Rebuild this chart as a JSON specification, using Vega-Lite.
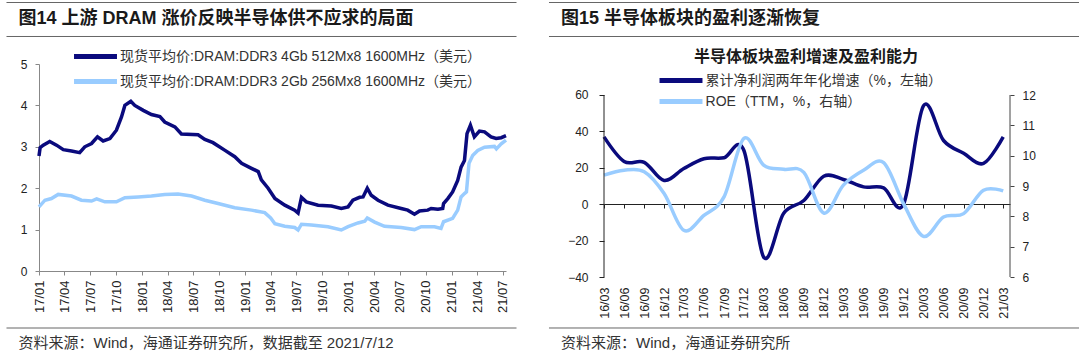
{
  "$schema": "https://vega.github.io/schema/vega-lite/v6.json",
  "background": "white",
  "padding": {"left": 5, "top": 2, "right": 2, "bottom": 2},
  "spacing": 30,
  "resolve": {"scale": {"color": "independent"}, "legend": {"color": "independent"}},
  "config": {
    "view": {"stroke": null},
    "font": "Liberation Sans, Noto Sans CJK SC",
    "axis": {"grid": false, "labelFont": "Liberation Sans", "labelFontSize": 12, "labelColor": "#222222", "labelOverlap": false},
    "axisX": {"labelOverlap": false}
  },
  "datasets": {
    "d4": [{"date":"2017-01-01","v":2.78},{"date":"2017-01-05","v":2.98},{"date":"2017-01-16","v":3.04},{"date":"2017-02-08","v":3.13},{"date":"2017-03-04","v":3.04},{"date":"2017-03-28","v":2.93},{"date":"2017-04-26","v":2.9},{"date":"2017-05-25","v":2.86},{"date":"2017-06-12","v":3.0},{"date":"2017-07-06","v":3.08},{"date":"2017-07-27","v":3.24},{"date":"2017-08-16","v":3.14},{"date":"2017-09-09","v":3.2},{"date":"2017-10-02","v":3.4},{"date":"2017-10-20","v":3.72},{"date":"2017-11-01","v":4.0},{"date":"2017-11-22","v":4.1},{"date":"2017-12-06","v":4.0},{"date":"2018-01-05","v":3.88},{"date":"2018-02-03","v":3.78},{"date":"2018-03-05","v":3.73},{"date":"2018-03-22","v":3.6},{"date":"2018-04-27","v":3.48},{"date":"2018-05-20","v":3.31},{"date":"2018-07-18","v":3.29},{"date":"2018-08-11","v":3.18},{"date":"2018-09-09","v":3.1},{"date":"2018-10-20","v":2.92},{"date":"2018-11-25","v":2.76},{"date":"2018-12-19","v":2.6},{"date":"2019-01-23","v":2.48},{"date":"2019-02-16","v":2.4},{"date":"2019-02-27","v":2.2},{"date":"2019-03-23","v":2.0},{"date":"2019-04-16","v":1.75},{"date":"2019-05-21","v":1.59},{"date":"2019-06-25","v":1.47},{"date":"2019-07-07","v":1.4},{"date":"2019-07-19","v":1.78},{"date":"2019-08-05","v":1.67},{"date":"2019-09-16","v":1.59},{"date":"2019-11-02","v":1.57},{"date":"2019-12-07","v":1.51},{"date":"2019-12-31","v":1.55},{"date":"2020-01-17","v":1.71},{"date":"2020-02-10","v":1.78},{"date":"2020-02-22","v":1.79},{"date":"2020-03-08","v":2.0},{"date":"2020-03-22","v":1.83},{"date":"2020-04-15","v":1.71},{"date":"2020-05-20","v":1.59},{"date":"2020-07-06","v":1.51},{"date":"2020-07-29","v":1.47},{"date":"2020-08-22","v":1.37},{"date":"2020-09-09","v":1.45},{"date":"2020-10-08","v":1.47},{"date":"2020-10-20","v":1.51},{"date":"2020-11-13","v":1.49},{"date":"2020-11-30","v":1.51},{"date":"2020-12-03","v":1.63},{"date":"2020-12-18","v":1.75},{"date":"2021-01-04","v":1.91},{"date":"2021-01-22","v":2.19},{"date":"2021-02-03","v":2.51},{"date":"2021-02-15","v":2.67},{"date":"2021-02-24","v":3.32},{"date":"2021-03-08","v":3.52},{"date":"2021-03-22","v":3.24},{"date":"2021-04-09","v":3.38},{"date":"2021-04-27","v":3.36},{"date":"2021-05-20","v":3.24},{"date":"2021-06-07","v":3.2},{"date":"2021-06-25","v":3.22},{"date":"2021-07-12","v":3.27}],
    "d2": [{"date":"2017-01-01","v":1.55},{"date":"2017-01-22","v":1.71},{"date":"2017-02-14","v":1.75},{"date":"2017-03-10","v":1.85},{"date":"2017-04-26","v":1.81},{"date":"2017-05-31","v":1.71},{"date":"2017-07-06","v":1.69},{"date":"2017-07-24","v":1.74},{"date":"2017-08-22","v":1.67},{"date":"2017-10-02","v":1.67},{"date":"2017-11-01","v":1.77},{"date":"2017-12-18","v":1.79},{"date":"2018-02-03","v":1.81},{"date":"2018-03-22","v":1.85},{"date":"2018-05-08","v":1.86},{"date":"2018-06-25","v":1.81},{"date":"2018-08-11","v":1.71},{"date":"2018-09-27","v":1.63},{"date":"2018-11-25","v":1.53},{"date":"2019-01-23","v":1.47},{"date":"2019-03-11","v":1.41},{"date":"2019-04-01","v":1.28},{"date":"2019-04-16","v":1.14},{"date":"2019-05-21","v":1.08},{"date":"2019-06-25","v":1.05},{"date":"2019-07-07","v":0.99},{"date":"2019-07-19","v":1.13},{"date":"2019-08-23","v":1.11},{"date":"2019-10-21","v":1.07},{"date":"2019-12-07","v":0.99},{"date":"2019-12-31","v":1.07},{"date":"2020-02-04","v":1.16},{"date":"2020-02-28","v":1.2},{"date":"2020-03-08","v":1.28},{"date":"2020-04-03","v":1.18},{"date":"2020-05-08","v":1.08},{"date":"2020-07-06","v":1.05},{"date":"2020-08-22","v":1.0},{"date":"2020-09-15","v":1.07},{"date":"2020-11-01","v":1.07},{"date":"2020-11-24","v":1.03},{"date":"2020-12-03","v":1.19},{"date":"2021-01-04","v":1.27},{"date":"2021-01-22","v":1.47},{"date":"2021-02-03","v":1.79},{"date":"2021-02-15","v":1.87},{"date":"2021-02-22","v":1.91},{"date":"2021-03-03","v":2.6},{"date":"2021-03-16","v":2.79},{"date":"2021-04-03","v":2.91},{"date":"2021-04-27","v":2.99},{"date":"2021-06-01","v":3.01},{"date":"2021-06-08","v":2.95},{"date":"2021-06-25","v":3.07},{"date":"2021-07-12","v":3.16}],
    "semis": [{"q":"2016-03-01","growth":37,"roe":9.36},{"q":"2016-06-01","growth":23.5,"roe":9.52},{"q":"2016-09-01","growth":23,"roe":9.47},{"q":"2016-12-01","growth":13,"roe":8.75},{"q":"2017-03-01","growth":19.6,"roe":7.54},{"q":"2017-06-01","growth":25,"roe":8.03},{"q":"2017-09-01","growth":25.5,"roe":8.64},{"q":"2017-12-01","growth":29.5,"roe":10.57},{"q":"2018-03-01","growth":-29,"roe":9.69},{"q":"2018-06-01","growth":-5,"roe":9.55},{"q":"2018-09-01","growth":2,"roe":9.45},{"q":"2018-12-01","growth":15.4,"roe":8.11},{"q":"2019-03-01","growth":13.6,"roe":9.03},{"q":"2019-06-01","growth":9.5,"roe":9.52},{"q":"2019-09-01","growth":9,"roe":9.77},{"q":"2019-12-01","growth":0,"roe":8.42},{"q":"2020-03-01","growth":54,"roe":7.34},{"q":"2020-06-01","growth":35,"roe":7.98},{"q":"2020-09-01","growth":28,"roe":8.09},{"q":"2020-12-01","growth":22.4,"roe":8.86},{"q":"2021-03-01","growth":37,"roe":8.84}]
  },
  "hconcat": [
    {
      "vconcat": [
        {
          "width": 467,
          "height": 207,
          "resolve": {"scale": {"x": "independent", "y": "independent"}},
          "layer": [
            {
              "layer": [
                {
                  "data": {"name": "d2"},
                  "mark": {"type": "line", "strokeWidth": 3.5, "clip": false},
                  "encoding": {
                    "x": {"field": "date", "type": "temporal",
                      "scale": {"type": "utc", "domain": [{"year":2017,"month":1,"date":1,"utc":true},{"year":2021,"month":7,"date":12,"utc":true}]},
                      "axis": {"title": null, "format": "%y/%m", "labelAngle": 270, "labelFontSize": 13, "labelPadding": 5, "tickSize": 4, "tickColor": "#888888", "domainColor": "#888888", "labelOverlap": false, "labelBound": false,
                        "values": [1483228800000,1491004800000,1498867200000,1506816000000,1514764800000,1522540800000,1530403200000,1538352000000,1546300800000,1554076800000,1561939200000,1569888000000,1577836800000,1585699200000,1593561600000,1601510400000,1609459200000,1617235200000,1625097600000]}},
                    "y": {"field": "v", "type": "quantitative", "scale": {"domain": [0, 5], "nice": false},
                      "axis": {"title": null, "values": [0,1,2,3,4,5], "tickSize": 4, "labelPadding": 8, "tickColor": "#888888", "domainColor": "#888888"}},
                    "color": {"datum": "现货平均价:DRAM:DDR3 2Gb 256Mx8 1600MHz（美元）",
                      "scale": {"domain": ["现货平均价:DRAM:DDR3 4Gb 512Mx8 1600MHz（美元）", "现货平均价:DRAM:DDR3 2Gb 256Mx8 1600MHz（美元）"], "range": ["#0a0a7d", "#99ccff"]},
                      "legend": {"title": null, "orient": "none", "legendX": 46.5, "legendY": -17.5, "direction": "vertical", "symbolType": "M-3,0L3,0", "symbolSize": 205, "symbolStrokeWidth": 5, "labelFontSize": 14, "labelFont": "Liberation Sans, Noto Sans CJK SC", "labelColor": "#333333", "rowPadding": 5, "labelOffset": 14.6, "padding": 0, "labelLimit": 600}}
                  }
                },
                {
                  "data": {"name": "d4"},
                  "mark": {"type": "line", "strokeWidth": 3.5, "clip": false},
                  "encoding": {
                    "x": {"field": "date", "type": "temporal",
                      "axis": {"title": null, "format": "%y/%m", "labelAngle": 270, "labelFontSize": 13, "labelPadding": 5, "tickSize": 4, "tickColor": "#888888", "domainColor": "#888888", "labelOverlap": false, "labelBound": false,
                        "values": [1483228800000,1491004800000,1498867200000,1506816000000,1514764800000,1522540800000,1530403200000,1538352000000,1546300800000,1554076800000,1561939200000,1569888000000,1577836800000,1585699200000,1593561600000,1601510400000,1609459200000,1617235200000,1625097600000]}},
                    "y": {"field": "v", "type": "quantitative"},
                    "color": {"datum": "现货平均价:DRAM:DDR3 4Gb 512Mx8 1600MHz（美元）"}
                  }
                }
              ]
            },
            {
              "data": {"values": [{}]},
              "mark": {"type": "rule", "color": "#666666", "strokeWidth": 1, "clip": false},
              "encoding": {
                "x": {"datum": -0.0696, "type": "quantitative", "scale": {"domain": [0, 1], "nice": false, "zero": false}, "axis": null},
                "x2": {"datum": 1.0225},
                "y": {"datum": 1.2971, "type": "quantitative", "scale": {"domain": [0, 1], "nice": false, "zero": false}, "axis": null}
              }
            },
            {
              "data": {"values": [{}]},
              "mark": {"type": "rule", "color": "#666666", "strokeWidth": 1, "clip": false},
              "encoding": {
                "x": {"datum": -0.0696, "type": "quantitative", "scale": {"domain": [0, 1], "nice": false, "zero": false}, "axis": null},
                "x2": {"datum": 1.0225},
                "y": {"datum": 1.1329, "type": "quantitative", "scale": {"domain": [0, 1], "nice": false, "zero": false}, "axis": null}
              }
            },
            {
              "data": {"values": [{}]},
              "mark": {"type": "rule", "color": "#666666", "strokeWidth": 1, "clip": false},
              "encoding": {
                "x": {"datum": -0.0696, "type": "quantitative", "scale": {"domain": [0, 1], "nice": false, "zero": false}, "axis": null},
                "x2": {"datum": 1.0225},
                "y": {"datum": -0.2754, "type": "quantitative", "scale": {"domain": [0, 1], "nice": false, "zero": false}, "axis": null}
              }
            },
            {
              "data": {"values": [{}]},
              "mark": {"type": "text", "align": "left", "baseline": "middle", "fontSize": 18, "fontWeight": "bold", "color": "#1a1a1a", "font": "Liberation Sans, Noto Sans CJK SC", "clip": false},
              "encoding": {
                "x": {"datum": -0.0439, "type": "quantitative", "scale": {"domain": [0, 1], "nice": false, "zero": false}, "axis": null},
                "y": {"datum": 1.2174, "type": "quantitative", "scale": {"domain": [0, 1], "nice": false, "zero": false}, "axis": null},
                "text": {"value": "图14 上游 DRAM 涨价反映半导体供不应求的局面"}
              }
            },
            {
              "data": {"values": [{}]},
              "mark": {"type": "text", "align": "left", "baseline": "middle", "fontSize": 15, "color": "#333333", "font": "Liberation Sans, Noto Sans CJK SC", "clip": false},
              "encoding": {
                "x": {"datum": -0.0439, "type": "quantitative", "scale": {"domain": [0, 1], "nice": false, "zero": false}, "axis": null},
                "y": {"datum": -0.3478, "type": "quantitative", "scale": {"domain": [0, 1], "nice": false, "zero": false}, "axis": null},
                "text": {"value": "资料来源：Wind，海通证券研究所，数据截至 2021/7/12"}
              }
            }
          ]
        }
      ]
    },
    {
      "vconcat": [
        {
          "width": 406,
          "height": 213,
          "resolve": {"scale": {"x": "independent", "y": "independent"}},
          "layer": [
            {
              "resolve": {"scale": {"y": "independent"}},
              "layer": [
                {
                  "data": {"name": "semis"},
                  "mark": {"type": "line", "interpolate": "cardinal", "tension": 0, "strokeWidth": 3.5, "clip": false},
                  "encoding": {
                    "x": {"field": "q", "type": "temporal",
                      "scale": {"type": "utc", "domain": [{"year":2016,"month":3,"date":1,"utc":true},{"year":2021,"month":4,"date":1,"utc":true}]},
                      "axis": {"title": null, "format": "%y/%m", "labelAngle": 270, "labelFontSize": 12.5, "offset": -73, "labelPadding": 79, "tickSize": 4, "tickColor": "#222222", "domainColor": "#222222", "labelOverlap": false, "labelBound": false,
                        "values": [1456790400000,1464739200000,1472688000000,1480550400000,1488326400000,1496275200000,1504224000000,1512086400000,1519862400000,1527811200000,1535760000000,1543622400000,1551398400000,1559347200000,1567296000000,1575158400000,1583020800000,1590969600000,1598918400000,1606780800000,1614556800000]}},
                    "y": {"field": "growth", "type": "quantitative", "scale": {"domain": [-40, 77.03], "nice": false},
                      "axis": {"title": null, "orient": "left", "values": [-40,-20,0,20,40,60], "tickSize": 5, "labelPadding": 11, "tickColor": "#222222", "domain": false}},
                    "color": {"datum": "累计净利润两年年化增速（%，左轴）",
                      "scale": {"domain": ["累计净利润两年年化增速（%，左轴）", "ROE（TTM，%，右轴）"], "range": ["#0a0a7d", "#99ccff"]},
                      "legend": {"title": null, "orient": "none", "legendX": 67, "legendY": 6.5, "direction": "vertical", "symbolType": "M-3,0L3,0", "symbolSize": 205, "symbolStrokeWidth": 5, "labelFontSize": 14, "labelFont": "Liberation Sans, Noto Sans CJK SC", "labelColor": "#333333", "rowPadding": 1, "labelOffset": 14.6, "padding": 0, "labelLimit": 600}}
                  }
                },
                {
                  "data": {"name": "semis"},
                  "mark": {"type": "line", "interpolate": "cardinal", "tension": 0, "strokeWidth": 3.5, "clip": false},
                  "encoding": {
                    "x": {"field": "q", "type": "temporal",
                      "axis": {"title": null, "format": "%y/%m", "labelAngle": 270, "labelFontSize": 12.5, "offset": -73, "labelPadding": 79, "tickSize": 4, "tickColor": "#222222", "domainColor": "#222222", "labelOverlap": false, "labelBound": false,
                        "values": [1456790400000,1464739200000,1472688000000,1480550400000,1488326400000,1496275200000,1504224000000,1512086400000,1519862400000,1527811200000,1535760000000,1543622400000,1551398400000,1559347200000,1567296000000,1575158400000,1583020800000,1590969600000,1598918400000,1606780800000,1614556800000]}},
                    "y": {"field": "roe", "type": "quantitative", "scale": {"domain": [6, 13.022], "nice": false, "zero": false},
                      "axis": {"title": null, "orient": "right", "values": [6,7,8,9,10,11,12], "tickSize": 4, "labelPadding": 8, "tickColor": "#444444", "domain": false}},
                    "color": {"datum": "ROE（TTM，%，右轴）"}
                  }
                }
              ]
            },
            {
              "data": {"values": [{}]},
              "mark": {"type": "rule", "color": "#222222", "strokeWidth": 1, "clip": false},
              "encoding": {
                "x": {"datum": 0, "type": "quantitative", "scale": {"domain": [0, 1], "nice": false, "zero": false}, "axis": null},
                "y": {"datum": 0, "type": "quantitative", "scale": {"domain": [0, 1], "nice": false, "zero": false}, "axis": null},
                "y2": {"datum": 0.8545}
              }
            },
            {
              "data": {"values": [{}]},
              "mark": {"type": "rule", "color": "#444444", "strokeWidth": 1, "clip": false},
              "encoding": {
                "x": {"datum": 1, "type": "quantitative", "scale": {"domain": [0, 1], "nice": false, "zero": false}, "axis": null},
                "y": {"datum": 0, "type": "quantitative", "scale": {"domain": [0, 1], "nice": false, "zero": false}, "axis": null},
                "y2": {"datum": 0.8545}
              }
            },
            {
              "data": {"values": [{}]},
              "mark": {"type": "rule", "color": "#666666", "strokeWidth": 1, "clip": false},
              "encoding": {
                "x": {"datum": -0.1355, "type": "quantitative", "scale": {"domain": [0, 1], "nice": false, "zero": false}, "axis": null},
                "x2": {"datum": 1.17},
                "y": {"datum": 1.2887, "type": "quantitative", "scale": {"domain": [0, 1], "nice": false, "zero": false}, "axis": null}
              }
            },
            {
              "data": {"values": [{}]},
              "mark": {"type": "rule", "color": "#666666", "strokeWidth": 1, "clip": false},
              "encoding": {
                "x": {"datum": -0.1355, "type": "quantitative", "scale": {"domain": [0, 1], "nice": false, "zero": false}, "axis": null},
                "x2": {"datum": 1.17},
                "y": {"datum": 1.1291, "type": "quantitative", "scale": {"domain": [0, 1], "nice": false, "zero": false}, "axis": null}
              }
            },
            {
              "data": {"values": [{}]},
              "mark": {"type": "rule", "color": "#666666", "strokeWidth": 1, "clip": false},
              "encoding": {
                "x": {"datum": -0.1355, "type": "quantitative", "scale": {"domain": [0, 1], "nice": false, "zero": false}, "axis": null},
                "x2": {"datum": 1.17},
                "y": {"datum": -0.2394, "type": "quantitative", "scale": {"domain": [0, 1], "nice": false, "zero": false}, "axis": null}
              }
            },
            {
              "data": {"values": [{}]},
              "mark": {"type": "text", "align": "left", "baseline": "middle", "fontSize": 18, "fontWeight": "bold", "color": "#1a1a1a", "font": "Liberation Sans, Noto Sans CJK SC", "clip": false},
              "encoding": {
                "x": {"datum": -0.1059, "type": "quantitative", "scale": {"domain": [0, 1], "nice": false, "zero": false}, "axis": null},
                "y": {"datum": 1.2113, "type": "quantitative", "scale": {"domain": [0, 1], "nice": false, "zero": false}, "axis": null},
                "text": {"value": "图15 半导体板块的盈利逐渐恢复"}
              }
            },
            {
              "data": {"values": [{}]},
              "mark": {"type": "text", "align": "center", "baseline": "middle", "fontSize": 16, "fontWeight": "bold", "color": "#1a1a1a", "font": "Liberation Sans, Noto Sans CJK SC", "clip": false},
              "encoding": {
                "x": {"datum": 0.4975, "type": "quantitative", "scale": {"domain": [0, 1], "nice": false, "zero": false}, "axis": null},
                "y": {"datum": 1.0329, "type": "quantitative", "scale": {"domain": [0, 1], "nice": false, "zero": false}, "axis": null},
                "text": {"value": "半导体板块盈利增速及盈利能力"}
              }
            },
            {
              "data": {"values": [{}]},
              "mark": {"type": "text", "align": "left", "baseline": "middle", "fontSize": 15, "color": "#333333", "font": "Liberation Sans, Noto Sans CJK SC", "clip": false},
              "encoding": {
                "x": {"datum": -0.1059, "type": "quantitative", "scale": {"domain": [0, 1], "nice": false, "zero": false}, "axis": null},
                "y": {"datum": -0.3099, "type": "quantitative", "scale": {"domain": [0, 1], "nice": false, "zero": false}, "axis": null},
                "text": {"value": "资料来源：Wind，海通证券研究所"}
              }
            }
          ]
        }
      ]
    }
  ]
}
